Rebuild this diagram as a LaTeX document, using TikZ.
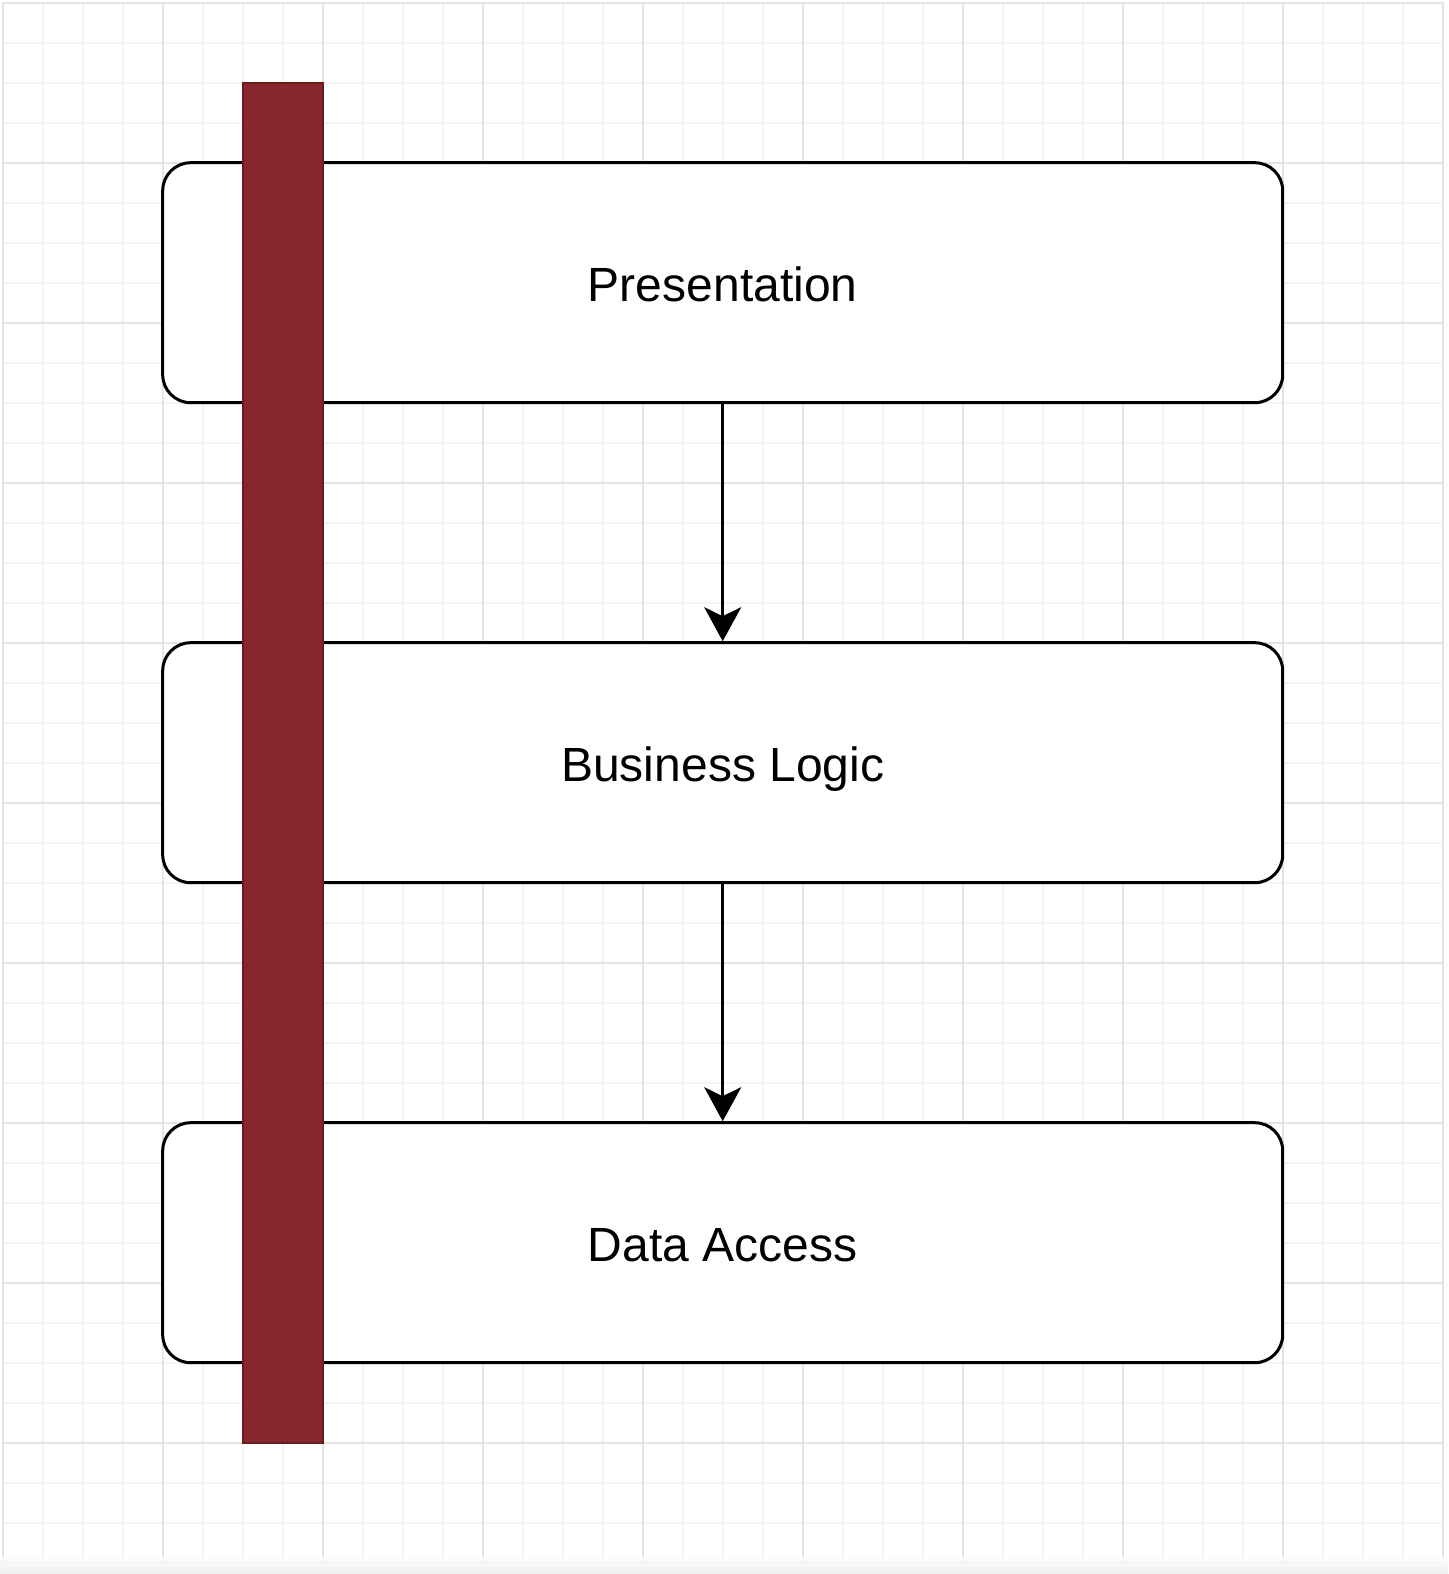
\documentclass[tikz,border=0pt]{standalone}
\usepackage{fontspec}
\setmainfont{Liberation Sans}
\usetikzlibrary{arrows.meta}
\definecolor{gridminor}{HTML}{F3F3F3}
\definecolor{gridmajor}{HTML}{E4E4E4}
\definecolor{barfill}{HTML}{88262E}
\definecolor{barline}{HTML}{6A1C1C}
\begin{document}
\begin{tikzpicture}[x=0.5pt,y=-0.5pt,
  layerbox/.style={draw=black, line width=1.5pt, fill=white, rounded corners=14pt,
    minimum width=560pt, minimum height=120pt, inner sep=0pt,
    text height=20pt, text depth=1.3pt,
    font=\fontsize{24}{28}\selectfont},
  flow/.style={draw=black, line width=1.25pt, -{Stealth[length=17pt,width=18.5pt,inset=4.5pt]}},
  minorline/.style={draw=gridminor, line width=1pt},
  majorline/.style={draw=gridmajor, line width=1pt}]
\useasboundingbox (0,0) rectangle (1448,1574);
\fill[white] (0,0) rectangle (1448,1574);
% grid
\foreach \i in {0,...,36} {\draw[minorline] (2.7+40*\i, 2.7) -- (2.7+40*\i, 1562.7);}
\foreach \j in {0,...,39} {\draw[minorline] (2.7, 2.7+40*\j) -- (1442.7, 2.7+40*\j);}
\foreach \i in {0,...,9} {\draw[majorline] (2.7+160*\i, 2.7) -- (2.7+160*\i, 1562.7);}
\foreach \j in {0,...,9} {\draw[majorline] (2.7, 2.7+160*\j) -- (1442.7, 2.7+160*\j);}
\shade[top color=white, bottom color=gray!18, fill opacity=0.7] (0,1556) rectangle (1448,1574);
% layers
\node[layerbox] (pres) at (722.7,282.7) {Presentation};
\node[layerbox] (biz) at (722.7,762.7) {Business Logic};
\node[layerbox] (data) at (722.7,1242.7) {Data Access};
\draw[flow] (pres) -- (biz);
\draw[flow] (biz) -- (data);
% red bar
\node[draw=barline, fill=barfill, line width=1pt, minimum width=40pt, minimum height=680pt, inner sep=0pt] (bar) at (282.7,762.7) {};
\end{tikzpicture}
\end{document}
